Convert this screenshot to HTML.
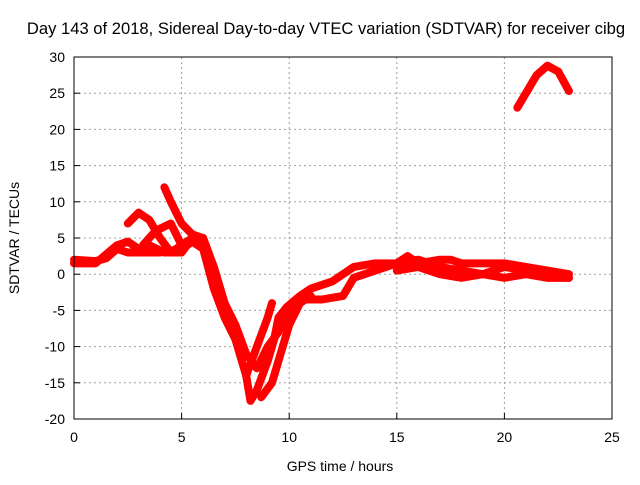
<!DOCTYPE html>
<html><head><meta charset="utf-8"><style>
body{margin:0;background:#fff}
svg text{font-family:"Liberation Sans",sans-serif;font-size:14px;fill:#000}
</style></head><body>
<svg id="chart" width="640" height="480" viewBox="0 0 640 480">
<rect width="640" height="480" fill="#fff"/>
<g id="grid"></g><g id="series"></g><g id="axes"></g>
<text x="326" y="34" text-anchor="middle" style="font-size:16.6px">Day 143 of 2018, Sidereal Day-to-day VTEC variation (SDTVAR) for receiver cibg</text>
<text x="340" y="471" text-anchor="middle">GPS time / hours</text>
<text x="0" y="0" text-anchor="middle" transform="translate(19,238) rotate(-90)">SDTVAR / TECUs</text>
</svg>
<script>
const xTicks=[0,5,10,15,20,25];
const yTicks=[-20,-15,-10,-5,0,5,10,15,20,25,30];
const trackA=[[0,2],[1,1.8],[1.5,2.2],[2,3.5],[2.5,3],[3,3],[4,3],[5,3.5],[5.5,4.5],[6,3.5],[6.5,-2],[7,-6],[7.5,-9],[8,-14],[8.2,-17.5],[8.5,-16],[9,-12],[9.3,-9],[9.5,-6],[9.9,-4.5],[10.5,-3],[11,-2],[12,-1],[12.5,0],[13,1],[14,1.5],[15,1.5],[16,2],[17,1],[18,0.5],[19,0],[20,1],[21,0.5],[22,0],[23,-0.5]];
const trackB=[[0,1.5],[1,1.5],[2,4],[2.5,4.5],[3,3.5],[3.5,4],[4.2,3],[5,3],[5.5,5],[6,5],[6.5,1],[7,-4],[7.5,-7],[8,-11],[8.5,-13],[9,-10],[9.5,-8],[10,-5],[10.5,-3.5],[11.5,-3.5],[12.5,-3],[13,-0.5],[14,0.5],[15,1.5],[15.5,2.5],[16,1.5],[17,2],[17.5,2],[18,1.5],[19,1.5],[20,1.5],[21,1],[22,0.5],[23,0]];
const trackC=[[2.5,7],[3,8.5],[3.5,7.5],[4,5],[4.5,3],[5,4],[5.5,5]];
const trackD=[[4.2,12],[4.5,10],[5,7],[5.5,5.5],[6,5]];
const trackE=[[3.2,4],[3.8,6],[4.5,7],[5,4]];
const trackF=[[8,-14],[8.5,-10],[9,-6],[9.2,-4]];
const trackG=[[8.7,-17],[9.2,-15],[9.6,-11],[10,-7],[10.5,-4],[11,-3]];
const trackH=[[20.6,23],[21,25],[21.5,27.5],[22,28.8],[22.5,28],[23,25.3]];
const trackI=[[15,0.5],[16,1],[17,0],[18,-0.5],[19,0],[20,-0.5],[21,0],[22,-0.5],[23,-0.5]];
const L=74,R=612,T=57,B=419;
const xs=h=>L+h/25*(R-L);
const ys=v=>B-(v+20)/50*(B-T);
const NS="http://www.w3.org/2000/svg";
function mk(tag,attrs,parent){const e=document.createElementNS(NS,tag);for(const k in attrs)e.setAttribute(k,attrs[k]);parent.appendChild(e);return e;}
const grid=document.getElementById('grid'),axes=document.getElementById('axes'),ser=document.getElementById('series');
xTicks.forEach(t=>{
  if(t>0&&t<25){const g=mk('line',{x1:xs(t),x2:xs(t),y1:T,y2:B,stroke:'#a0a0a0','stroke-dasharray':'2,3'},grid);
  
  }
  const tx=mk('text',{x:xs(t),y:B+23,'text-anchor':'middle'},axes);tx.textContent=t;
  
  
  mk('line',{x1:xs(t),x2:xs(t),y1:B,y2:B-6,stroke:'#000'},axes);
});
yTicks.forEach(t=>{
  if(t>-20&&t<30){const g=mk('line',{x1:L,x2:R,y1:ys(t),y2:ys(t),stroke:'#a0a0a0','stroke-dasharray':'2,3'},grid);
  
  }
  const tx=mk('text',{x:L-9,y:ys(t)+5,'text-anchor':'end'},axes);tx.textContent=t;
  
  
  mk('line',{x1:L,x2:L+6,y1:ys(t),y2:ys(t),stroke:'#000'},axes);
});
const frame=mk('rect',{x:L,y:T,width:R-L,height:B-T,fill:'none',stroke:'#000'},axes);


const tracks=[trackA,trackB,trackC,trackD,trackE,trackF,trackG,trackH,trackI];
tracks.forEach((tr,i)=>{
  const p=mk('polyline',{points:tr.map(d=>xs(d[0])+','+ys(d[1])).join(' '),fill:'none',stroke:'#ff0000','stroke-width':8,'stroke-linejoin':'round','stroke-linecap':'round'},ser);
  
  
});
</script>
</body></html>
